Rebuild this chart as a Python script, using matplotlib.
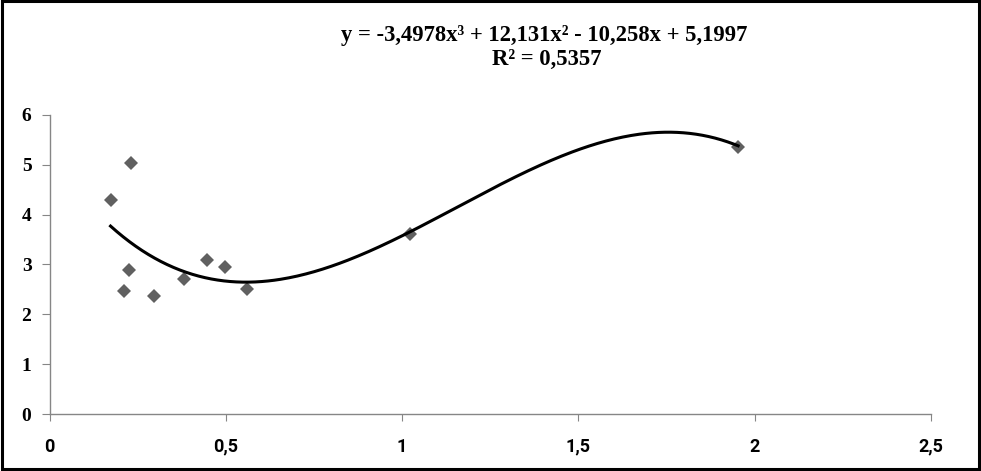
import numpy as np
import matplotlib.pyplot as plt
from matplotlib.patches import Rectangle

# data points
x_vals = [0.173, 0.232, 0.212, 0.224, 0.297, 0.382, 0.448, 0.497, 0.559, 1.023, 1.953]
y_vals = [4.30, 5.03, 2.47, 2.88, 2.36, 2.70, 3.09, 2.94, 2.51, 3.62, 5.35]

# trendline coefficients (cubic) as printed on the chart
coef = [-3.4978, 12.131, -10.258, 5.1997]
r2_text = "0,5357"

x_ticks = [0, 0.5, 1, 1.5, 2, 2.5]
x_tick_labels = ["0", "0,5", "1", "1,5", "2", "2,5"]
y_ticks = [0, 1, 2, 3, 4, 5, 6]

axis_grey = "#868686"

fig = plt.figure(figsize=(9.81, 4.71), dpi=100)
ax = fig.add_axes([0.0505, 0.121, 0.8985, 0.635])

ax.plot(x_vals, y_vals, linestyle="none", marker="D", markersize=7.6,
        color="#606060", markeredgewidth=0, zorder=2)

xs = np.linspace(min(x_vals), max(x_vals), 300)
ax.plot(xs, np.polyval(coef, xs), color="black", linewidth=2.2, zorder=3)

ax.set_xlim(0, 2.5)
ax.set_ylim(0, 6)
ax.set_xticks(x_ticks)
ax.set_xticklabels(x_tick_labels, family="Roboto", fontweight="bold", fontsize=13)
ax.set_yticks(y_ticks)
ax.set_yticklabels([str(v) for v in y_ticks], family="Liberation Serif",
                   fontweight="bold", fontsize=14)

for side in ["top", "right"]:
    ax.spines[side].set_visible(False)
for side in ["left", "bottom"]:
    ax.spines[side].set_color(axis_grey)
    ax.spines[side].set_linewidth(1)
ax.tick_params(axis="x", direction="out", length=5, color=axis_grey, pad=12)
ax.tick_params(axis="y", direction="out", length=6, color=axis_grey, pad=7)

eq = "y = {:.4f}x³ + {:.3f}x² - {:.3f}x + {:.4f}".format(
    coef[0], coef[1], abs(coef[2]), coef[3]).replace(".", ",")
fig.text(0.555, 0.913, eq, ha="center", va="baseline", family="Liberation Serif",
         fontweight="bold", fontsize=16.3)
fig.text(0.557, 0.862, "R² = " + r2_text, ha="center", va="baseline",
         family="Liberation Serif", fontweight="bold", fontsize=16.3)

# black frame around the chart area
fig.patches.append(Rectangle((0.002, 0.004), 0.996, 0.993, transform=fig.transFigure,
                             fill=False, edgecolor="black", linewidth=2.2))

fig.savefig("out.png", dpi=100)
